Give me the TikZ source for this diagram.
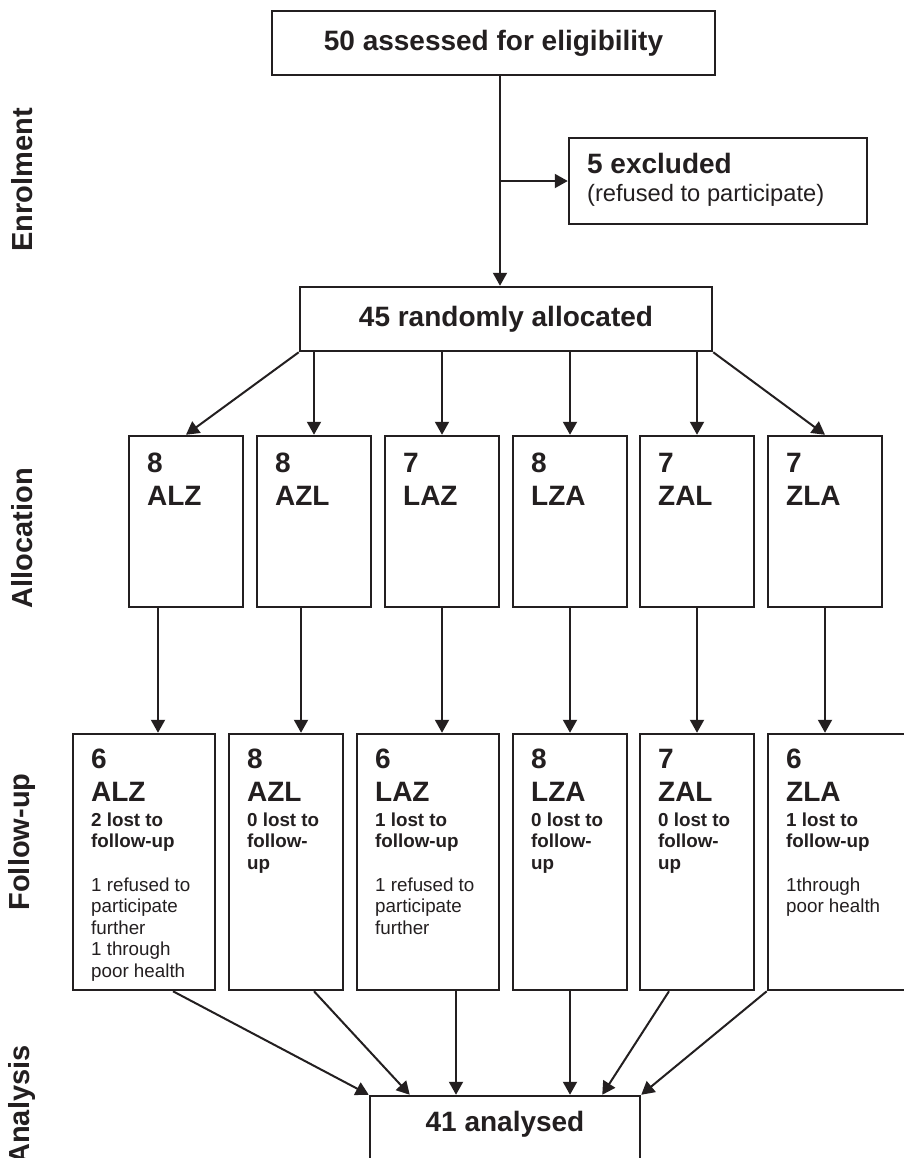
\documentclass[tikz,border=0pt]{standalone}
\usepackage{fontspec}
\setmainfont{Liberation Sans}
\usetikzlibrary{arrows.meta,positioning}
\definecolor{ink}{HTML}{231F20}

\tikzset{
	box/.style = {draw = ink, line width = 1.25pt, inner sep = 0pt},
	allocbox/.style = {box, minimum width = 57pt, minimum height = 85.5pt},
	followbox/.style = {box, minimum height = 128pt},
	arm/.style = {draw = ink, line width = 1pt, -{Triangle[length = 6.5pt, width = 7pt]}},
	link/.style = {draw = ink, line width = 1pt},
	headtext/.style = {text = ink, font = \fontsize{14}{16.5}\selectfont\bfseries},
	codetext/.style = {headtext, align = left, inner sep = 0pt, anchor = north west},
	lostnote/.style = {text = ink, font = \fontsize{9.4}{10.75}\selectfont\bfseries, align = left, inner sep = 0pt, anchor = north west},
	reasonnote/.style = {text = ink, font = \fontsize{9.4}{10.75}\selectfont, align = left, inner sep = 0pt, anchor = north west},
	stagetext/.style = {text = ink, font = \fontsize{14.5}{17}\selectfont\bfseries, rotate = 90}
}

\begin{document}
\begin{tikzpicture}[x = 0.5pt, y = -0.5pt]
\clip (0,0) rectangle (904,1158);
\fill[white] (0,0) rectangle (904,1158);

% stage labels
\node[stagetext] (enrol) at (22,180) {Enrolment};
\node[stagetext] (allocation) at (22,538) {Allocation};
\node[stagetext] (followup) at (22,842) {Follow-up};
\node[stagetext] (analysis) at (22,1105) {Analysis};

% enrolment
\node[box, headtext, minimum width = 221.5pt, minimum height = 32pt] (assess) at (493.5,43) {50 assessed for eligibility};
\node[box, minimum width = 149pt, minimum height = 43pt] (excl) at (718,181) {};
\node[headtext, anchor = base west, inner sep = 0pt] (excl-t) at ([shift = {(19,37)}]excl.north west) {5 excluded};
\node[text = ink, font = \fontsize{11.85}{14}\selectfont, anchor = base west, inner sep = 0pt] (excl-n) at ([shift = {(19,65)}]excl.north west) {(refused to participate)};
\node[box, headtext, minimum width = 206pt, minimum height = 32pt] (rand) at (506,319) {45 randomly allocated};

% allocation
\node[allocbox] (a1) at (186,521.5) {};
\node[allocbox] (a2) at (314,521.5) {};
\node[allocbox] (a3) at (442,521.5) {};
\node[allocbox] (a4) at (570,521.5) {};
\node[allocbox] (a5) at (697,521.5) {};
\node[allocbox] (a6) at (825,521.5) {};
\node[codetext] (a1-t) at ([shift = {(19,18)}]a1.north west) {8\\ALZ};
\node[codetext] (a2-t) at ([shift = {(19,18)}]a2.north west) {8\\AZL};
\node[codetext] (a3-t) at ([shift = {(19,18)}]a3.north west) {7\\LAZ};
\node[codetext] (a4-t) at ([shift = {(19,18)}]a4.north west) {8\\LZA};
\node[codetext] (a5-t) at ([shift = {(19,18)}]a5.north west) {7\\ZAL};
\node[codetext] (a6-t) at ([shift = {(19,18)}]a6.north west) {7\\ZLA};

% follow-up
\node[followbox, minimum width = 71pt] (f1) at (144,862) {};
\node[followbox, minimum width = 57pt] (f2) at (286,862) {};
\node[followbox, minimum width = 71pt] (f3) at (428,862) {};
\node[followbox, minimum width = 57pt] (f4) at (570,862) {};
\node[followbox, minimum width = 57pt] (f5) at (697,862) {};
\node[followbox, minimum width = 71pt] (f6) at (839,862) {};
\node[codetext] (f1-t) at ([shift = {(19,16)}]f1.north west) {6\\ALZ};
\node[codetext] (f2-t) at ([shift = {(19,16)}]f2.north west) {8\\AZL};
\node[codetext] (f3-t) at ([shift = {(19,16)}]f3.north west) {6\\LAZ};
\node[codetext] (f4-t) at ([shift = {(19,16)}]f4.north west) {8\\LZA};
\node[codetext] (f5-t) at ([shift = {(19,16)}]f5.north west) {7\\ZAL};
\node[codetext] (f6-t) at ([shift = {(19,16)}]f6.north west) {6\\ZLA};
\node[lostnote] (f1-l) at ([shift = {(19,79.5)}]f1.north west) {2 lost to\\follow-up};
\node[lostnote] (f2-l) at ([shift = {(19,79.5)}]f2.north west) {0 lost to\\follow-\\up};
\node[lostnote] (f3-l) at ([shift = {(19,79.5)}]f3.north west) {1 lost to\\follow-up};
\node[lostnote] (f4-l) at ([shift = {(19,79.5)}]f4.north west) {0 lost to\\follow-\\up};
\node[lostnote] (f5-l) at ([shift = {(19,79.5)}]f5.north west) {0 lost to\\follow-\\up};
\node[lostnote] (f6-l) at ([shift = {(19,79.5)}]f6.north west) {1 lost to\\follow-up};
\node[reasonnote] (f1-r) at ([shift = {(19,144.5)}]f1.north west) {1 refused to\\participate\\further\\1 through\\poor health};
\node[reasonnote] (f3-r) at ([shift = {(19,144.5)}]f3.north west) {1 refused to\\participate\\further};
\node[reasonnote] (f6-r) at ([shift = {(19,144.5)}]f6.north west) {1through\\poor health};

% analysis
\node[box, minimum width = 135pt, minimum height = 37pt] (anl) at (505,1133) {};
\node[headtext, anchor = base, inner sep = 0pt] (anl-t) at ([shift = {(0,37)}]anl.north) {41 analysed};

% connectors
\coordinate (split) at (500,181);
\draw[link] (assess.south -| split) -- (split);
\draw[arm] (split) -- (rand.north -| split);
\draw[arm] (split) -- (excl.west);

\draw[arm] (rand.south west) -- (a1.north);
\draw[arm] (rand.south -| a2.north) -- (a2.north);
\draw[arm] (rand.south -| a3.north) -- (a3.north);
\draw[arm] (rand.south -| a4.north) -- (a4.north);
\draw[arm] (rand.south -| a5.north) -- (a5.north);
\draw[arm] (rand.south east) -- (a6.north);

\draw[arm] ([xshift = -14pt]a1.south) -- ([xshift = -14pt]a1.south |- f1.north);
\draw[arm] ([xshift = -6.5pt]a2.south) -- ([xshift = -6.5pt]a2.south |- f2.north);
\draw[arm] (a3.south) -- (a3.south |- f3.north);
\draw[arm] (a4.south) -- (a4.south |- f4.north);
\draw[arm] (a5.south) -- (a5.south |- f5.north);
\draw[arm] (a6.south) -- (a6.south |- f6.north);

\draw[arm] ([xshift = 14.5pt]f1.south) -- (anl.north west);
\draw[arm] ([xshift = 14pt]f2.south) -- ([xshift = 20.5pt]anl.north west);
\draw[arm] ([xshift = 14pt]f3.south) -- ([xshift = 14pt]f3.south |- anl.north);
\draw[arm] (f4.south) -- (f4.south |- anl.north);
\draw[arm] ([xshift = -14pt]f5.south) -- ([xshift = -19.5pt]anl.north east);
\draw[arm] (f6.south west) -- (anl.north east);
\end{tikzpicture}
\end{document}
